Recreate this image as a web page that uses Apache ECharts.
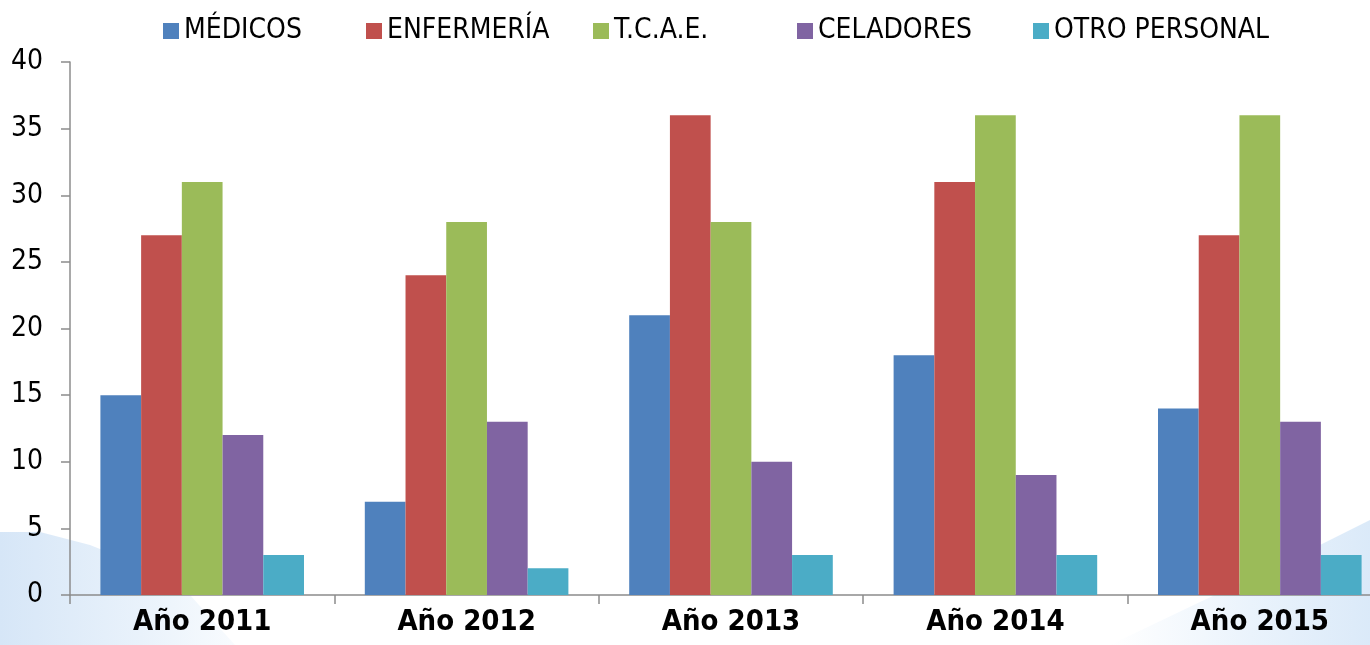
<!DOCTYPE html>
<html>
<head>
<meta charset="utf-8">
<script src="https://cdn.jsdelivr.net/npm/echarts@6/dist/echarts.min.js"></script>
<style>
html,body{margin:0;padding:0;background:#fff;overflow:hidden;width:1370px;height:645px;}
#chart{width:1392px;height:645px;}
</style>
</head>
<body>
<div id="chart"></div>
<script>
var categories = ['Año 2011', 'Año 2012', 'Año 2013', 'Año 2014', 'Año 2015'];
var seriesNames = ['MÉDICOS', 'ENFERMERÍA', 'T.C.A.E.', 'CELADORES', 'OTRO PERSONAL'];
var medicos = [15, 7, 21, 18, 14];
var enfermeria = [27, 24, 36, 31, 27];
var tcae = [31, 28, 28, 36, 36];
var celadores = [12, 13, 10, 9, 13];
var otroPersonal = [3, 2, 3, 3, 3];
var yTicks = [0, 5, 10, 15, 20, 25, 30, 35, 40];

var colors = ['#4F81BD', '#C0504D', '#9BBB59', '#8064A2', '#4BACC6'];
var values = [medicos, enfermeria, tcae, celadores, otroPersonal];
var legendLefts = [163, 366, 593, 797, 1033];
var FONT = '"DejaVu Sans Condensed", "DejaVu Sans", sans-serif';

function grad(stops) {
  return {type: 'linear', x: 0, y: 0, x2: 1, y2: 0, global: false, colorStops: stops};
}

var chart = echarts.init(document.getElementById('chart'), null, {renderer: 'canvas'});

var legends = seriesNames.map(function (n, i) {
  return {
    data: [n],
    left: legendLefts[i],
    top: 17,
    padding: 0,
    itemWidth: 16,
    itemHeight: 16,
    icon: 'rect',
    selectedMode: false,
    textStyle: {fontSize: 28, fontFamily: FONT, color: '#000'}
  };
});

var series = seriesNames.map(function (n, i) {
  return {
    name: n,
    type: 'bar',
    data: values[i],
    barGap: '0%',
    barCategoryGap: '23%',
    itemStyle: {color: colors[i]},
    z: 5
  };
});

chart.setOption({
  animation: false,
  color: colors,
  legend: legends,
  graphic: [
    {
      type: 'polygon',
      z: -10,
      shape: {
        points: [[0, 532], [40, 532], [90, 545], [140, 565], [190, 595], [235, 645], [0, 645]]
      },
      style: {
        fill: grad([
          {offset: 0, color: '#d6e6f7'},
          {offset: 0.6, color: '#e9f2fb'},
          {offset: 1, color: '#f8fbfe'}
        ])
      }
    },
    {
      type: 'polygon',
      z: -10,
      shape: {
        points: [[1110, 645], [1200, 602], [1290, 560], [1370, 520], [1392, 510], [1392, 645]]
      },
      style: {
        fill: grad([
          {offset: 0, color: '#ffffff'},
          {offset: 0.5, color: '#eaf3fc'},
          {offset: 1, color: '#d8e8f8'}
        ])
      }
    }
  ],
  grid: {left: 70, right: 0, top: 62, bottom: 50, containLabel: false},
  xAxis: {
    type: 'category',
    data: categories,
    axisLine: {show: true, lineStyle: {color: '#8c8c8c', width: 1.5}},
    axisTick: {show: true, length: 9, lineStyle: {color: '#8c8c8c', width: 1.5}},
    axisLabel: {fontSize: 29, fontWeight: 'bold', fontFamily: FONT, color: '#000', margin: 13}
  },
  yAxis: {
    type: 'value',
    min: yTicks[0],
    max: yTicks[yTicks.length - 1],
    interval: yTicks[1] - yTicks[0],
    splitLine: {show: false},
    axisLine: {show: true, lineStyle: {color: '#8c8c8c', width: 1.5}},
    axisTick: {show: true, length: 9, lineStyle: {color: '#8c8c8c', width: 1.5}},
    axisLabel: {fontSize: 28, fontFamily: FONT, color: '#000', margin: 27}
  },
  series: series
});
</script>
</body>
</html>
